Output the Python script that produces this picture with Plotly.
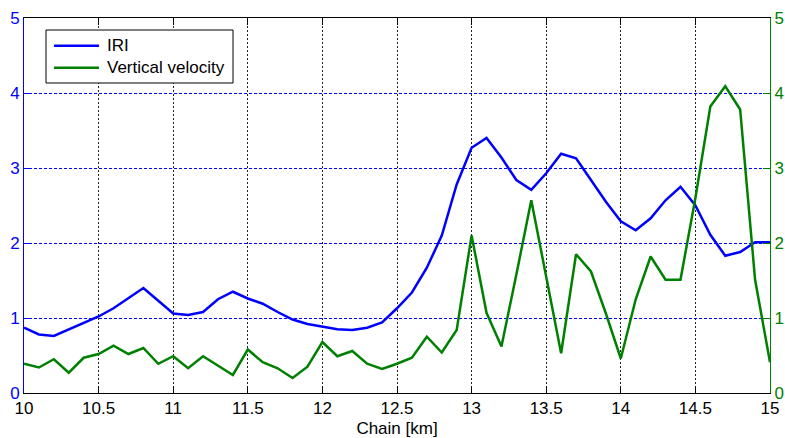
import plotly.graph_objects as go

chain_km = [10.0, 10.1, 10.2, 10.3, 10.4, 10.5, 10.6, 10.7, 10.8, 10.9,
            11.0, 11.1, 11.2, 11.3, 11.4, 11.5, 11.6, 11.7, 11.8, 11.9,
            12.0, 12.1, 12.2, 12.3, 12.4, 12.5, 12.6, 12.7, 12.8, 12.9,
            13.0, 13.1, 13.2, 13.3, 13.4, 13.5, 13.6, 13.7, 13.8, 13.9,
            14.0, 14.1, 14.2, 14.3, 14.4, 14.5, 14.6, 14.7, 14.8, 14.9,
            15.0]

iri = [0.87, 0.78, 0.76, 0.85, 0.94, 1.02, 1.13, 1.27, 1.40, 1.23,
       1.06, 1.04, 1.08, 1.25, 1.35, 1.26, 1.19, 1.08, 0.98, 0.92,
       0.88, 0.85, 0.84, 0.87, 0.94, 1.13, 1.34, 1.67, 2.10, 2.78,
       3.27, 3.40, 3.14, 2.84, 2.71, 2.93, 3.19, 3.13, 2.84, 2.55,
       2.29, 2.17, 2.33, 2.57, 2.75, 2.50, 2.11, 1.83, 1.88, 2.01,
       2.01]

vertical_velocity = [0.39, 0.34, 0.45, 0.27, 0.47, 0.52, 0.63, 0.52, 0.60, 0.39,
                     0.49, 0.33, 0.49, 0.36, 0.24, 0.58, 0.41, 0.33, 0.20, 0.35,
                     0.68, 0.49, 0.56, 0.39, 0.32, 0.39, 0.47, 0.75, 0.54, 0.84,
                     2.10, 1.07, 0.62, 1.58, 2.57, 1.55, 0.53, 1.85, 1.62, 1.06,
                     0.46, 1.25, 1.82, 1.51, 1.51, 2.60, 3.82, 4.09, 3.78, 1.51,
                     0.41]

series_names = ["IRI", "Vertical velocity"]
x_ticks = [10, 10.5, 11, 11.5, 12, 12.5, 13, 13.5, 14, 14.5, 15]
x_tick_labels = ["10", "10.5", "11", "11.5", "12", "12.5", "13", "13.5", "14", "14.5", "15"]
y_ticks = [0, 1, 2, 3, 4, 5]

BLUE = "#0000FF"
GREEN = "#008000"
FONT = "Liberation Sans, Arial, sans-serif"
COLORS = [BLUE, GREEN]

fig = go.Figure()
fig.add_trace(go.Scatter(x=chain_km, y=iri, mode="lines", name=series_names[0],
                         line=dict(color=BLUE, width=2.5), yaxis="y",
                         showlegend=False))
fig.add_trace(go.Scatter(x=chain_km, y=vertical_velocity, mode="lines",
                         name=series_names[1],
                         line=dict(color=GREEN, width=2.5), yaxis="y2",
                         showlegend=False))

# Legend drawn in paper coordinates (MATLAB-style compact box)
shapes = [dict(type="rect", xref="paper", yref="paper",
               x0=0.0295, x1=0.2802, y0=0.8267, y1=0.968,
               line=dict(color="black", width=1), fillcolor="white", layer="above")]
annotations = []
legend_rows_y = [0.9261, 0.8675]
for name, color, yy in zip(series_names, COLORS, legend_rows_y):
    shapes.append(dict(type="line", xref="paper", yref="paper",
                       x0=0.0402, x1=0.1005, y0=yy, y1=yy,
                       line=dict(color=color, width=2.5), layer="above"))
    annotations.append(dict(xref="paper", yref="paper", x=0.1086, y=yy,
                            xanchor="left", yanchor="middle", showarrow=False,
                            text=name, font=dict(size=17, color="black", family=FONT)))

fig.update_layout(
    width=785, height=438,
    margin=dict(l=24, r=15, t=18, b=45, autoexpand=False),
    paper_bgcolor="white", plot_bgcolor="white",
    font=dict(family=FONT, size=17, color="black"),
    xaxis=dict(
        range=[10, 15], tickvals=x_ticks, ticktext=x_tick_labels,
        showline=True, linecolor="black", linewidth=1, mirror="ticks",
        ticks="inside", ticklen=7, tickcolor="black",
        showgrid=True, gridcolor="#222222", griddash="2px,2px", gridwidth=1,
        zeroline=False, automargin=False,
        title=dict(text="Chain [km]", font=dict(size=17, color="black"), standoff=4),
        tickfont=dict(size=17, color="black"),
    ),
    yaxis=dict(
        range=[0, 5], tickvals=y_ticks,
        showline=True, linecolor=BLUE, linewidth=1, mirror=False,
        ticks="inside", ticklen=7, tickcolor=BLUE,
        showgrid=True, gridcolor=BLUE, griddash="3px,2px", gridwidth=1,
        zeroline=False, automargin=False,
        tickfont=dict(size=17, color=BLUE),
    ),
    yaxis2=dict(
        range=[0, 5], tickvals=y_ticks, overlaying="y", side="right",
        showline=True, linecolor=GREEN, linewidth=1,
        ticks="inside", ticklen=7, tickcolor=GREEN,
        showgrid=False, zeroline=False, automargin=False,
        tickfont=dict(size=17, color=GREEN),
    ),
    shapes=shapes,
    annotations=annotations,
    showlegend=False,
)

fig.write_html("out.html")
